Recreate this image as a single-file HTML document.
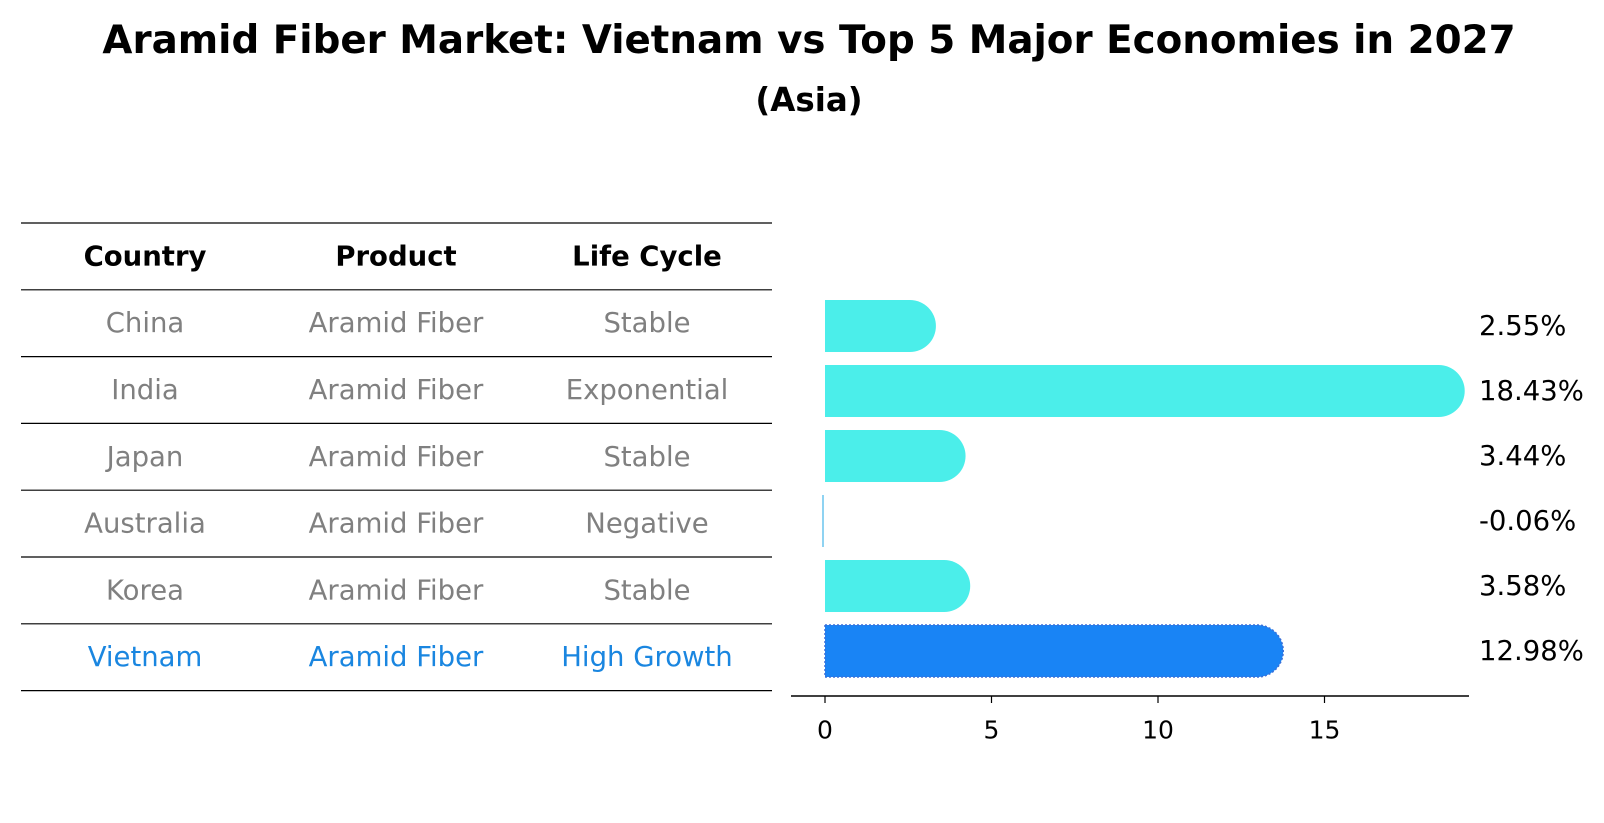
<!DOCTYPE html>
<html><head><meta charset="utf-8"><style>
html,body{margin:0;padding:0;background:#fff;}
svg{display:block;font-family:"DejaVu Sans","Liberation Sans",sans-serif;}
</style></head><body>
<svg id="chart" width="1604" height="823" viewBox="0 0 1604 823">
<text x="809" y="53" text-anchor="middle" font-size="38.8" font-weight="bold" fill="#000">Aramid Fiber Market: Vietnam vs Top 5 Major Economies in 2027</text>
<text x="809" y="111" text-anchor="middle" font-size="32.5" font-weight="bold" fill="#000">(Asia)</text>
<g id="table"></g>
<g id="bars"></g>
</svg>
<script>
const countries = ["China","India","Japan","Australia","Korea","Vietnam"];
const products = ["Aramid Fiber","Aramid Fiber","Aramid Fiber","Aramid Fiber","Aramid Fiber","Aramid Fiber"];
const lifeCycles = ["Stable","Exponential","Stable","Negative","Stable","High Growth"];
const growthValues = [2.55, 18.43, 3.44, -0.06, 3.58, 12.98];
const valueLabels = ["2.55%","18.43%","3.44%","-0.06%","3.58%","12.98%"];
const tickValues = [0, 5, 10, 15];
const headers = ["Country","Product","Life Cycle"];

const NS = "http://www.w3.org/2000/svg";
function mk(tag, attrs, parent){const e=document.createElementNS(NS,tag);for(const k in attrs)e.setAttribute(k,attrs[k]);parent.appendChild(e);return e;}

// table
const tbl = document.getElementById('table');
const lineY0 = 223, rowH = 66.8, tx0 = 21, tx1 = 772;
const colX = [145, 396, 647];
for (let i = 0; i <= countries.length + 1; i++) {
  const y = lineY0 + i * rowH;
  const l = mk('line', {x1: tx0, x2: tx1, y1: y, y2: y, stroke: '#000', 'stroke-width': 1.2}, tbl);
  
  
}
headers.forEach((h, c) => {
  const t = mk('text', {x: colX[c], y: lineY0 + rowH / 2, 'dominant-baseline': 'central', 'text-anchor': 'middle', 'font-size': 27.5, 'font-weight': 'bold', fill: '#000'}, tbl);
  t.textContent = h;
  
  
});
countries.forEach((cn, r) => {
  const cy = lineY0 + (r + 1.5) * rowH;
  const col = cn === 'Vietnam' ? '#1a86e0' : '#808080';
  [cn, products[r], lifeCycles[r]].forEach((v, c) => {
    const t = mk('text', {x: colX[c], y: cy, 'dominant-baseline': 'central', 'text-anchor': 'middle', 'font-size': 27.5, fill: col}, tbl);
    t.textContent = v;
    
    
  });
});

// bars
const bg = document.getElementById('bars');
const x0 = 825, pxPerUnit = 33.3;
function xs(v){ return x0 + v * pxPerUnit; }
const barCenter0 = 326, barStep = 65, barH = 52, capR = 26;
growthValues.forEach((v, i) => {
  const cy = barCenter0 + i * barStep;
  const top = cy - barH / 2;
  const isV = countries[i] === 'Vietnam';
  const fill = isV ? '#1984f5' : '#4beeea';
  let el;
  if (Math.abs(v) < 0.5) {
    const xa = Math.min(xs(0), xs(v));
    el = mk('rect', {x: xa - 1, y: top, width: Math.max(2, Math.abs(xs(v) - xs(0))), height: barH, fill: '#8fd3f2'}, bg);
  } else {
    const xe = xs(v);
    const d = `M${x0},${top} L${xe},${top} A${capR},${capR} 0 0 1 ${xe},${top + barH} L${x0},${top + barH} Z`;
    el = mk('path', {d: d, fill: fill}, bg);
    if (isV) { el.setAttribute('stroke', '#3a6fd8'); el.setAttribute('stroke-width', '1.5'); el.setAttribute('stroke-dasharray', '2 2'); }
  }
  
  
  const t = mk('text', {x: 1479, y: cy, 'dominant-baseline': 'central', 'font-size': 27.5, fill: '#000'}, bg);
  t.textContent = valueLabels[i];
  
  
});
// x axis
const axisY = 696;
const ax = mk('line', {x1: 791, x2: 1469, y1: axisY, y2: axisY, stroke: '#000', 'stroke-width': 1.6}, bg);


tickValues.forEach(tv => {
  const tk = mk('line', {x1: xs(tv), x2: xs(tv), y1: axisY, y2: axisY + 7, stroke: '#000', 'stroke-width': 1.2}, bg);
  
  
  const t = mk('text', {x: xs(tv), y: axisY + 34, 'dominant-baseline': 'central', 'text-anchor': 'middle', 'font-size': 25, fill: '#000'}, bg);
  t.textContent = String(tv);
  
  
});
</script>
</body></html>
